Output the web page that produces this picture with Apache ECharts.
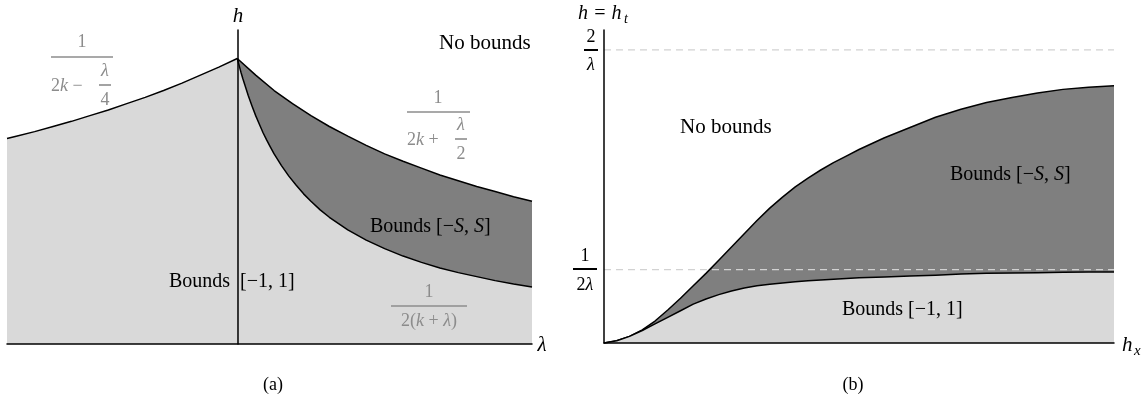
<!DOCTYPE html>
<html>
<head>
<meta charset="utf-8">
<script src="https://cdn.jsdelivr.net/npm/echarts@6/dist/echarts.min.js"></script>
<style>
  html, body { margin: 0; padding: 0; background: #fff; }
  #chart { width: 1148px; height: 403px; }
</style>
</head>
<body>
<div id="chart"></div>
<script>
// Panel (a): boundaries in the (lambda, h) plane, k = 1
const lamLeft  = [-3.125, -3, -2.75, -2.5, -2.25, -2, -1.75, -1.5, -1.25, -1, -0.75, -0.5, -0.25, 0];
const hLeft    = [0.360, 0.364, 0.372, 0.381, 0.390, 0.400, 0.410, 0.421, 0.432, 0.444, 0.457, 0.471, 0.485, 0.500];
const lamUpper = [0, 0.25, 0.5, 0.75, 1, 1.25, 1.5, 1.75, 2, 2.25, 2.5, 2.75, 3, 3.25, 3.5, 3.75, 4];
const hUpper   = [0.500, 0.471, 0.444, 0.421, 0.400, 0.381, 0.364, 0.348, 0.333, 0.320, 0.308, 0.296, 0.286, 0.276, 0.267, 0.258, 0.250];
const lamLower = [0, 0.025, 0.05, 0.075, 0.1, 0.15, 0.2, 0.25, 0.3, 0.35, 0.4, 0.45, 0.5, 0.6, 0.7, 0.8, 0.9, 1,
                  1.125, 1.25, 1.375, 1.5, 1.75, 2, 2.25, 2.5, 2.75, 3, 3.25, 3.5, 3.75, 4];
const hLower   = [0.500, 0.488, 0.476, 0.465, 0.455, 0.435, 0.417, 0.400, 0.385, 0.370, 0.357, 0.345, 0.333, 0.3125, 0.294, 0.278, 0.263, 0.250,
                  0.235, 0.222, 0.211, 0.200, 0.182, 0.167, 0.154, 0.143, 0.133, 0.125, 0.118, 0.111, 0.105, 0.100];

// Panel (b): boundaries in the (h_x, h_t) plane, h_t in units of 1/(2 lambda)
const hx      = [0, 0.25, 0.5, 0.75, 1, 1.25, 1.5, 1.75, 2, 2.25, 2.5, 2.75, 3, 3.25, 3.5, 3.75, 4,
                 4.25, 4.5, 4.75, 5, 5.5, 6, 6.5, 7, 7.5, 8, 8.5, 9, 9.5, 10];
const htUpper = [0, 0.03, 0.09, 0.18, 0.30, 0.45, 0.61, 0.78, 0.95, 1.13, 1.31, 1.49, 1.67, 1.84, 1.99, 2.13, 2.25,
                 2.36, 2.46, 2.55, 2.64, 2.80, 2.94, 3.08, 3.19, 3.28, 3.35, 3.41, 3.46, 3.49, 3.51];
const htLower = [0, 0.03, 0.09, 0.17, 0.26, 0.35, 0.44, 0.53, 0.60, 0.66, 0.71, 0.75, 0.78, 0.80, 0.82, 0.835, 0.85,
                 0.86, 0.87, 0.88, 0.89, 0.90, 0.915, 0.925, 0.94, 0.95, 0.955, 0.96, 0.965, 0.97, 0.97];
const refLevels = [1, 4];   // 1/(2λ) and 2/λ
const hxRange = [0, 10];

const SERIF = 'Liberation Serif';
const LIGHT = '#d9d9d9';
const DARK = '#7f7f7f';
const GREY_TXT = '#8c8c8c';

const zip = (xs, ys) => xs.map((x, i) => [x, ys[i]]);

function curve(xi, yi, xs, ys, fill, z) {
  return {
    type: 'line', xAxisIndex: xi, yAxisIndex: yi, data: zip(xs, ys),
    showSymbol: false, smooth: false, z: z,
    lineStyle: { color: '#000', width: 1.5, join: 'round' },
    areaStyle: { color: fill, opacity: 1 },
    silent: true, animation: false
  };
}

function dashed(level) {
  return {
    type: 'line', xAxisIndex: 1, yAxisIndex: 1,
    data: [[hxRange[0], level], [hxRange[1], level]],
    showSymbol: false, z: 4, silent: true, animation: false,
    lineStyle: { color: '#d2d2d2', width: 1.2, type: [7, 5] }
  };
}

function txt(x, y, text, o) {
  o = o || {};
  return {
    type: 'text', x: x, y: y, z: 100,
    style: {
      text: text, fontFamily: SERIF, fontSize: o.size || 20,
      fontStyle: o.italic ? 'italic' : 'normal',
      fill: o.color || '#000', align: o.align || 'left', verticalAlign: 'middle',
      rich: o.rich ? {
        i: { fontFamily: SERIF, fontStyle: 'italic', fontSize: o.size || 20, fill: o.color || '#000' }
      } : undefined
    }
  };
}

function bar(x1, x2, y, color, w) {
  return {
    type: 'line', z: 100,
    shape: { x1: x1, y1: y, x2: x2, y2: y },
    style: { stroke: color, lineWidth: w || 1.6 }
  };
}

const graphics = [
  // panel (a) axis names
  txt(238, 16, 'h', { italic: true, align: 'center', size: 21 }),
  txt(542, 345, 'λ', { italic: true, align: 'center', size: 21 }),
  // panel (a) region labels
  txt(439, 43, 'No bounds', { size: 21 }),
  txt(370, 227, 'Bounds [−{i|S}, {i|S}]', { rich: true }),
  txt(169, 282, 'Bounds'),
  txt(240, 282, '[−1, 1]'),
  // 1 / (2k − λ/4)
  txt(82, 42, '1', { align: 'center', color: GREY_TXT, size: 18 }),
  bar(51, 113, 57, GREY_TXT),
  txt(51, 86, '2{i|k} −', { color: GREY_TXT, size: 18, rich: true }),
  txt(105, 71, 'λ', { align: 'center', color: GREY_TXT, size: 18, italic: true }),
  bar(99, 111, 85, GREY_TXT),
  txt(105, 100, '4', { align: 'center', color: GREY_TXT, size: 18 }),
  // 1 / (2k + λ/2)
  txt(438, 98, '1', { align: 'center', color: GREY_TXT, size: 18 }),
  bar(407, 470, 112, GREY_TXT),
  txt(407, 140, '2{i|k} +', { color: GREY_TXT, size: 18, rich: true }),
  txt(461, 125, 'λ', { align: 'center', color: GREY_TXT, size: 18, italic: true }),
  bar(455, 467, 139, GREY_TXT),
  txt(461, 154, '2', { align: 'center', color: GREY_TXT, size: 18 }),
  // 1 / (2(k + λ))
  txt(429, 292, '1', { align: 'center', color: GREY_TXT, size: 18 }),
  bar(391, 467, 306, GREY_TXT),
  txt(429, 321, '2({i|k} + {i|λ})', { align: 'center', color: GREY_TXT, size: 18, rich: true }),
  // panel captions
  txt(273, 385, '(a)', { align: 'center', size: 18 }),
  txt(853, 385, '(b)', { align: 'center', size: 18 }),

  // panel (b) axis names
  txt(578, 14, 'h = h', { italic: true, size: 20 }),
  txt(624, 19, 't', { italic: true, size: 14 }),
  txt(1122, 345, 'h', { italic: true, size: 21 }),
  txt(1134, 351, 'x', { italic: true, size: 15 }),
  // 2/λ and 1/(2λ) level labels
  txt(591, 37, '2', { align: 'center', size: 18 }),
  bar(584, 598, 50, '#000', 2),
  txt(591, 65, 'λ', { align: 'center', size: 18, italic: true }),
  txt(585, 256, '1', { align: 'center', size: 18 }),
  bar(573, 597, 269, '#000', 2),
  txt(585, 285, '2{i|λ}', { align: 'center', size: 18, rich: true }),
  // panel (b) region labels
  txt(680, 127, 'No bounds', { size: 21 }),
  txt(950, 175, 'Bounds [−{i|S}, {i|S}]', { rich: true }),
  txt(842, 310, 'Bounds [−1, 1]')
];

function plainAxis(extra) {
  return Object.assign({
    type: 'value', z: 10,
    axisLine: { show: true, onZero: true, lineStyle: { color: '#000', width: 1.5 } },
    axisTick: { show: false }, axisLabel: { show: false }, splitLine: { show: false }
  }, extra);
}

const option = {
  backgroundColor: '#fff',
  animation: false,
  grid: [
    { left: 7, right: 616, top: 30, bottom: 59 },
    { left: 604, right: 34, top: 30, bottom: 60 }
  ],
  xAxis: [
    plainAxis({ gridIndex: 0, min: lamLeft[0], max: lamUpper[lamUpper.length - 1] }),
    plainAxis({ gridIndex: 1, min: hxRange[0], max: hxRange[1] })
  ],
  yAxis: [
    plainAxis({ gridIndex: 0, min: 0, max: 0.55 }),
    plainAxis({ gridIndex: 1, min: 0, max: 4.27 })
  ],
  series: [
    curve(0, 0, lamUpper, hUpper, DARK, 2),
    curve(0, 0, lamLower, hLower, LIGHT, 3),
    curve(0, 0, lamLeft, hLeft, LIGHT, 3),
    curve(1, 1, hx, htUpper, DARK, 2),
    curve(1, 1, hx, htLower, LIGHT, 3),
    dashed(refLevels[0]),
    dashed(refLevels[1])
  ],
  graphic: graphics
};

const chart = echarts.init(document.getElementById('chart'), null, { renderer: 'canvas' });
chart.setOption(option);
</script>
</body>
</html>
